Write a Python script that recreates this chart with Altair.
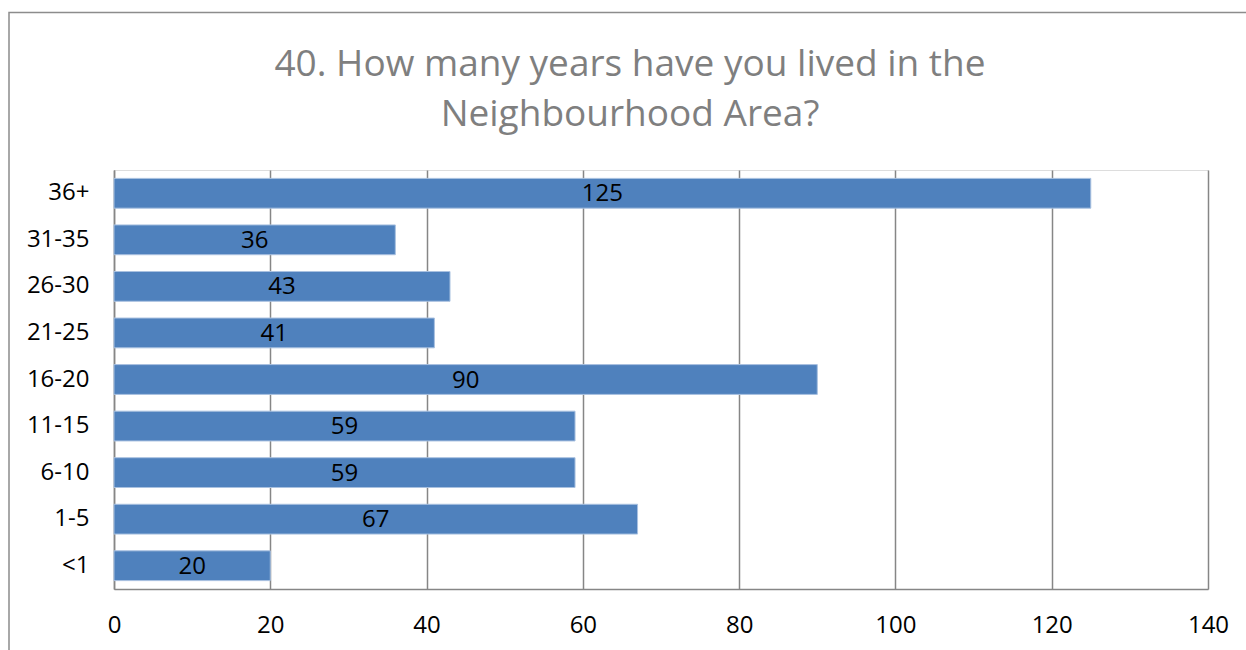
import altair as alt
import pandas as pd

categories = ["36+", "31-35", "26-30", "21-25", "16-20", "11-15", "6-10", "1-5", "<1"]
values = [125, 36, 43, 41, 90, 59, 59, 67, 20]
x_ticks = [0, 20, 40, 60, 80, 100, 120, 140]
title_lines = ["40. How many years have you lived in the", "Neighbourhood Area?"]

df = pd.DataFrame({"cat": categories, "val": values})
df["mid"] = df["val"] / 2

FONT = "Open Sans"
W, H = 1094, 419

x_scale = alt.Scale(domain=[0, 140], nice=False)
y_scale = alt.Scale(domain=categories, paddingInner=0.36, paddingOuter=0.18)

one = pd.DataFrame({"a": [0]})

frame = alt.Chart(one).mark_rect(
    fillOpacity=0, stroke="#8c8c8c", strokeWidth=1.5
).encode(
    x=alt.value(-105), x2=alt.value(W + 60),
    y=alt.value(-157.5), y2=alt.value(H + 90),
)

title = alt.Chart(one).mark_text(
    font=FONT, fontSize=37, color="#7f7f7f", align="center", baseline="alphabetic",
    lineHeight=50,
).encode(
    x=alt.value(516), y=alt.value(-94), text=alt.value(title_lines),
)

bars = alt.Chart(df).mark_bar(
    color="#4f81bd", stroke="#a9c1e0", strokeWidth=1
).encode(
    x=alt.X("val:Q", scale=x_scale,
            axis=alt.Axis(values=x_ticks, title=None, labelFlush=False,
                          grid=True, gridColor="#868686", gridWidth=1.5,
                          domainColor="#868686", domainWidth=1.5, ticks=False,
                          labelFont=FONT, labelFontSize=24, labelColor="black",
                          labelPadding=24)),
    y=alt.Y("cat:N", scale=y_scale, sort=categories,
            axis=alt.Axis(title=None, ticks=False, domainColor="#868686", domainWidth=1.5,
                          labelFont=FONT, labelFontSize=24, labelColor="black",
                          labelPadding=25)),
)

labels = alt.Chart(df).mark_text(
    font=FONT, fontSize=24, color="black", align="center", baseline="middle", dy=1
).encode(
    x=alt.X("mid:Q", scale=x_scale),
    y=alt.Y("cat:N", scale=y_scale, sort=categories),
    text="val:Q",
)

chart = alt.layer(frame, title, bars, labels).properties(
    width=W, height=H,
    padding={"left": 114, "top": 170, "right": 38, "bottom": 61},
    autosize=alt.AutoSizeParams(type="none"),
).configure_view(stroke=None).configure(background="white")

chart.save("out.html", embed_options={"renderer": "svg", "actions": False})
